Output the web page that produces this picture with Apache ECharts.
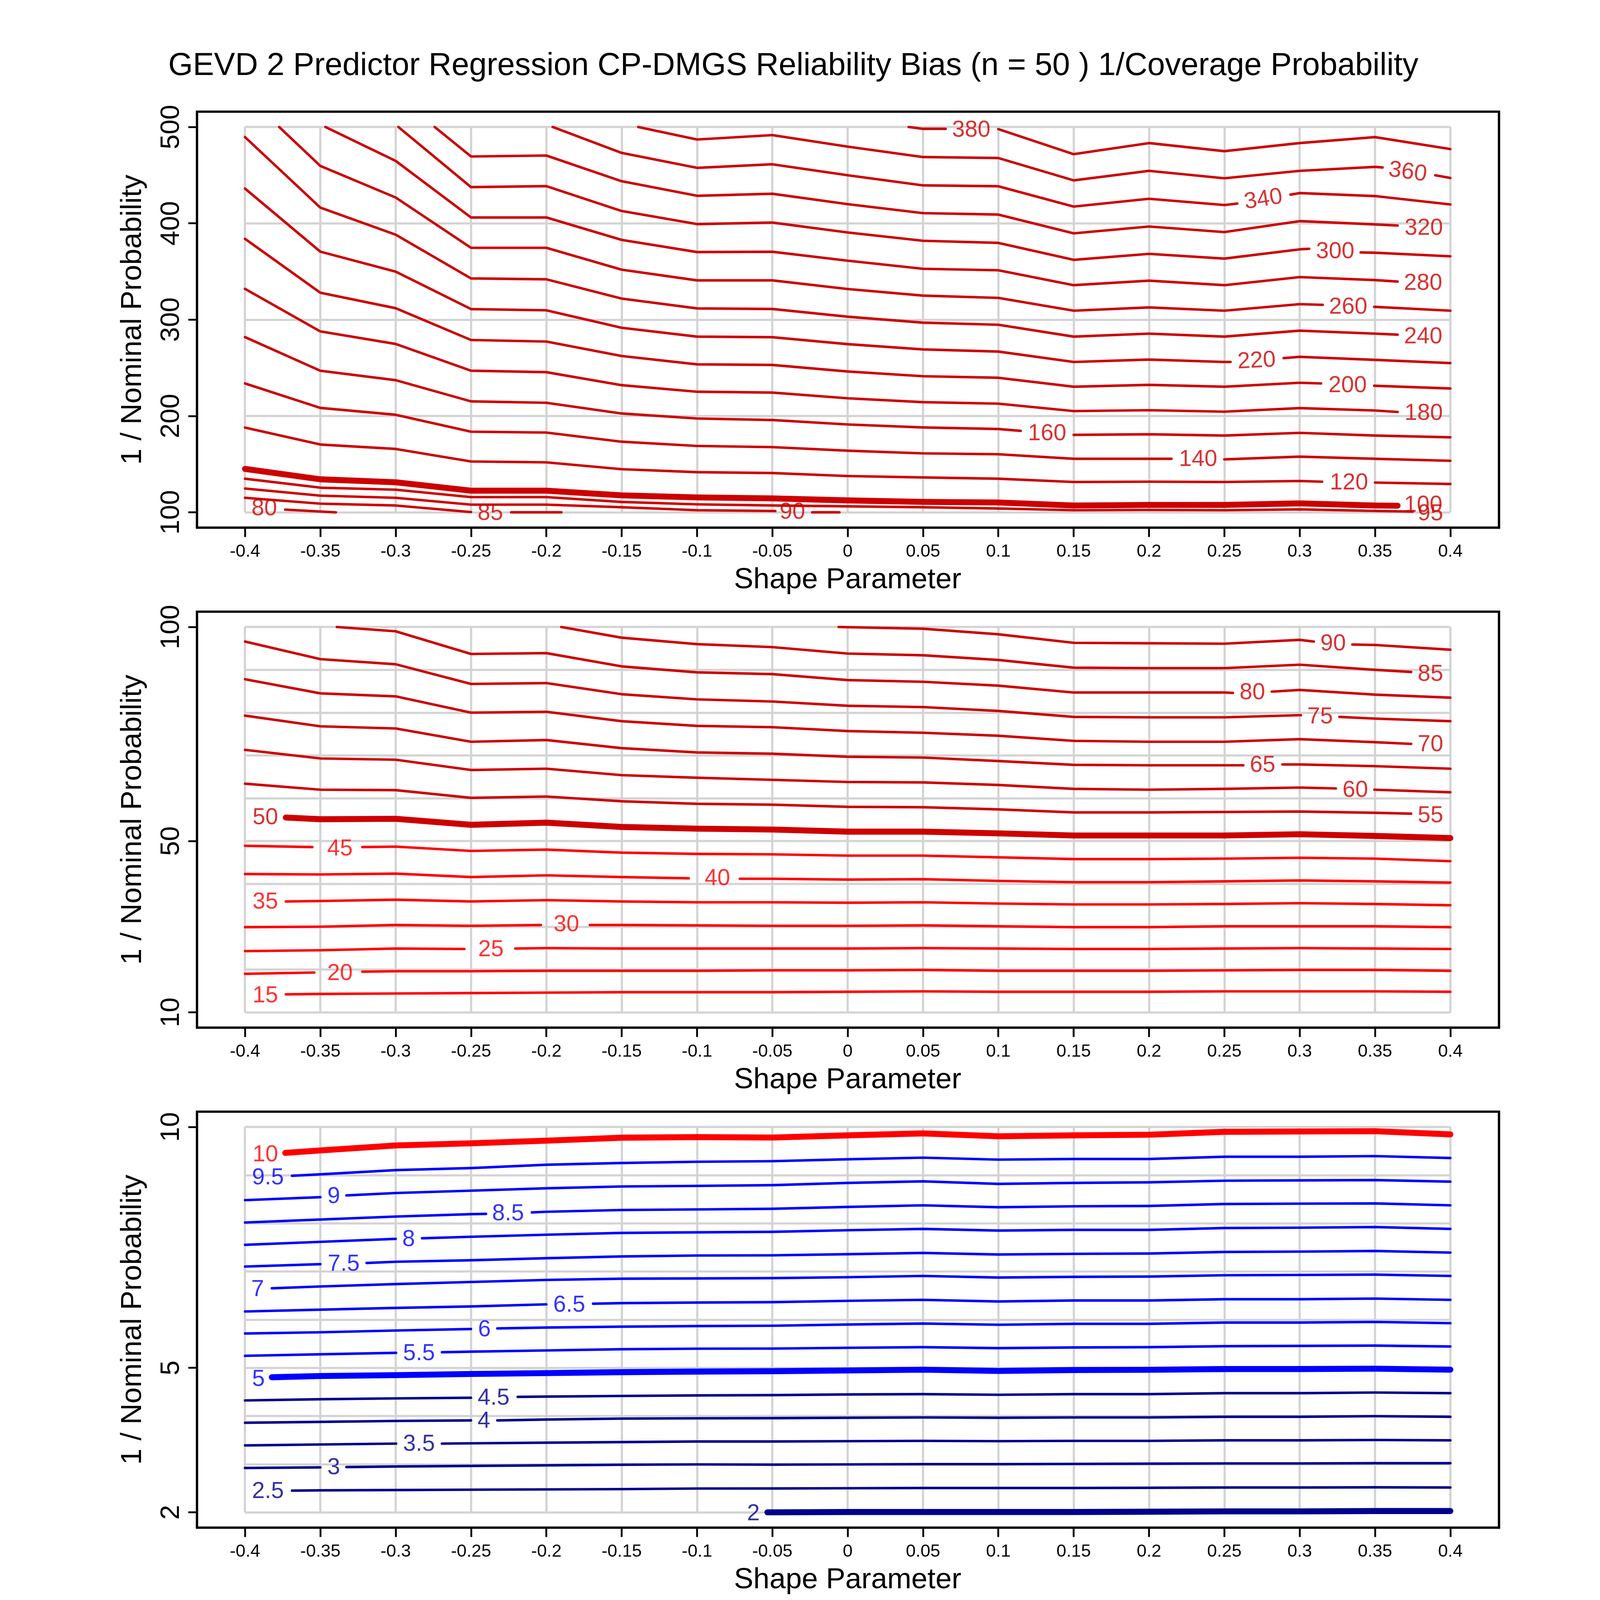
<!DOCTYPE html>
<html><head><meta charset="utf-8">
<script src="https://cdn.jsdelivr.net/npm/echarts@6/dist/echarts.min.js"></script>
<style>html,body{margin:0;padding:0;background:#fff;overflow:hidden}#c{width:100vw;height:100vh}</style>
</head><body><div id="c"></div>
<script>
const FONT = '"Liberation Sans", Arial, Helvetica, sans-serif';
const RED3 = '#CD0000', RED = '#FF0000', BLUE = '#0000FF', NAVY = '#00008B';

const titleText = 'GEVD 2 Predictor Regression CP-DMGS Reliability Bias (n = 50 ) 1/Coverage Probability';
const xName = 'Shape Parameter';
const yName = '1 / Nominal Probability';
const xTicks = [-0.4,-0.35,-0.3,-0.25,-0.2,-0.15,-0.1,-0.05,0,0.05,0.1,0.15,0.2,0.25,0.3,0.35,0.4];
const yTicks1 = [100,200,300,400,500];
const yTicks2 = [10,50,100];
const yTicks3 = [2,5,10];
const yRange1 = [100,500], yRange2 = [10,100], yRange3 = [2,10];
const yGridStep = [100,10,1];

// ---------- Panel 1 contour lines: [shape, 1/nominal]; null = gap for label ----------
const p1_380 = [[0.0405,500],[0.05,498.1],[0.065,498.1],null,[0.1,497.8],[0.15,471.8],[0.2,483.3],[0.25,474.9],[0.3,483.3],[0.35,489.5],[0.4,477.1]];
const p1_360 = [[-0.139,500],[-0.1,487],[-0.05,491.6],[0,479.6],[0.05,468.8],[0.1,467.8],[0.15,444.6],[0.2,454.5],[0.25,446.8],[0.3,454.5],[0.35,458.6],[0.355,458],null,[0.39,449.9],[0.4,447.1]];
const p1_340 = [[-0.1958,500],[-0.15,473.1],[-0.1,457.6],[-0.05,461.3],[0,449.9],[0.05,439.4],[0.1,438.5],[0.15,417.4],[0.2,425.5],[0.25,419],[0.2586,420.5],null,[0.2939,429.8],[0.3,431.4],[0.35,428.3],[0.4,419.6]];
const p1_320 = [[-0.2741,500],[-0.25,469.4],[-0.2,470.4],[-0.15,443.7],[-0.1,428.6],[-0.05,430.7],[0,419.9],[0.05,410.6],[0.1,409.1],[0.15,389.6],[0.2,396.7],[0.25,390.9],[0.3,402.3],[0.35,398.9],[0.365,397.7]];
const p1_300 = [[-0.2982,500],[-0.25,437.6],[-0.2,438.6],[-0.15,412.8],[-0.1,399.2],[-0.05,400.8],[0,390.5],[0.05,381.9],[0.1,379.7],[0.15,362.1],[0.2,368.3],[0.25,363.4],[0.3,373],[0.3063,373.6],null,[0.3405,369.8],[0.35,369.5],[0.4,365.8]];
const p1_280 = [[-0.3466,500],[-0.3,464.8],[-0.25,406.1],[-0.2,406.1],[-0.15,382.8],[-0.1,370.2],[-0.05,370.5],[0,361.2],[0.05,352.8],[0.1,351.3],[0.15,335.8],[0.2,340.5],[0.25,335.8],[0.3,344.2],[0.35,341.1],[0.365,339.6]];
const p1_260 = [[-0.3773,500],[-0.35,459.6],[-0.3,426.8],[-0.25,374.6],[-0.2,374.6],[-0.15,351.9],[-0.1,340.8],[-0.05,340.8],[0,331.8],[0.05,325],[0.1,322.6],[0.15,309.3],[0.2,312.7],[0.25,309.3],[0.3,316.1],[0.3153,315.4],null,[0.3495,313.3],[0.4,309.3]];
const p1_240 = [[-0.4,489.5],[-0.35,416.3],[-0.3,388.2],[-0.25,342.8],[-0.2,341.9],[-0.15,321.9],[-0.1,311.7],[-0.05,311.1],[0,303.1],[0.05,296.9],[0.1,294.7],[0.15,282.4],[0.2,285.5],[0.25,282.4],[0.3,288.6],[0.35,285.5],[0.365,284.4]];
const p1_220 = [[-0.4,436.1],[-0.35,370.6],[-0.3,349.9],[-0.25,311],[-0.2,309.7],[-0.15,291.6],[-0.1,282.4],[-0.05,281.8],[0,274.6],[0.05,269.1],[0.1,266.9],[0.15,256.1],[0.2,258.6],[0.25,256.1],[0.2541,256.1],null,[0.2894,260.1],[0.3,261.4],[0.35,258.3],[0.4,254.9]];
const p1_200 = [[-0.4,383.9],[-0.35,328],[-0.3,311.9],[-0.25,278.9],[-0.2,277.3],[-0.15,262.3],[-0.1,253.6],[-0.05,253],[0,246.2],[0.05,241.3],[0.1,239.7],[0.15,230.4],[0.2,232.3],[0.25,230.4],[0.3,234.5],[0.3142,233.8],null,[0.3495,231.4],[0.4,228.6]];
const p1_180 = [[-0.4,332],[-0.35,287.8],[-0.3,274.8],[-0.25,247],[-0.2,245.5],[-0.15,232],[-0.1,225.2],[-0.05,224.3],[0,218.4],[0.05,214.4],[0.1,212.8],[0.15,205.1],[0.2,206],[0.25,204.5],[0.3,208.2],[0.35,205.7],[0.365,204.2]];
const p1_160 = [[-0.4,281.9],[-0.35,247],[-0.3,237.2],[-0.25,215.2],[-0.2,213.7],[-0.15,202.6],[-0.1,197.4],[-0.05,195.8],[0,191.2],[0.05,188.1],[0.1,186.5],[0.1148,184.6],null,[0.15,180.4],[0.2,181],[0.25,179.7],[0.3,182.5],[0.35,179.7],[0.4,177.9]];
const p1_140 = [[-0.4,233.8],[-0.35,208.4],[-0.3,201.3],[-0.25,183.7],[-0.2,182.8],[-0.15,173.3],[-0.1,168.9],[-0.05,167.7],[0,164],[0.05,161.2],[0.1,160.3],[0.15,155.6],[0.2,155.6],[0.2149,155.6],null,[0.25,155],[0.3,157.8],[0.35,155.6],[0.4,153.5]];
const p1_120 = [[-0.4,188],[-0.35,170.4],[-0.3,165.8],[-0.25,152.8],[-0.2,151.9],[-0.15,144.8],[-0.1,141.7],[-0.05,140.8],[0,137.7],[0.05,136.2],[0.1,134.9],[0.15,131.5],[0.2,131.8],[0.25,131.5],[0.3,132.5],[0.3149,131.8],null,[0.35,130.9],[0.4,129.4]];
const p1_100 = [[-0.4,145.1],[-0.35,134.3],[-0.3,131.2],[-0.25,122.5],[-0.2,122.5],[-0.15,117.6],[-0.1,115.5],[-0.05,114.5],[0,112.4],[0.05,110.8],[0.1,110.2],[0.15,107.1],[0.2,107.7],[0.25,107.7],[0.3,109.3],[0.35,107.1],[0.365,106.9]];
const p1_95 = [[-0.4,134.9],[-0.35,125.6],[-0.3,123.5],[-0.25,115.8],[-0.2,115.8],[-0.15,110.8],[-0.1,108.3],[-0.05,107.1],[0,106.2],[0.05,105.3],[0.1,104],[0.15,102.2],[0.2,102.5],[0.25,102.2],[0.3,103.1],[0.35,101.5],[0.375,100.8]];
const p1_90 = [[-0.4,124.7],[-0.35,117.3],[-0.3,115.1],[-0.25,108],[-0.2,108],[-0.15,105.3],[-0.1,102.2],[-0.048,101.4],null,[-0.0235,100],[-0.0055,100]];
const p1_85 = [[-0.4,115.1],[-0.35,109],[-0.3,107.1],[-0.25,100.3],null,[-0.2233,100],[-0.19,100]];
const p1_80 = [[-0.3733,102.8],[-0.3397,100]];
// labels: [text, x, y, rotation]
const p1Labels = [[380,0.082,496.6,0],[360,0.3717,453,-8],[340,0.2759,424.6,9],[320,0.3824,394.6,0],[300,0.3236,370.5,0],[280,0.3819,337.4,0],[260,0.3322,312.7,0],[240,0.382,281.8,0],[220,0.2714,257,3],[200,0.3318,231.4,0],[180,0.3823,202.6,0],[160,0.1324,181.3,0],[140,0.2326,154.7,0],[120,0.3327,130.3,0],[100,0.382,107.1,0],[95,0.3868,98.5,0],[90,-0.0367,100,0],[85,-0.2372,98.8,0],[80,-0.3872,103.4,0]];

// ---------- Panel 2 ----------
const p2_90 = [[-0.006,100],[0.05,99.6],[0.1,98.3],[0.15,96.3],[0.2,96.2],[0.25,96.1],[0.3,97.0],[0.3094,96.6],null,[0.335,95.9],[0.35,95.8],[0.4,94.7]];
const p2_85 = [[-0.1901,100],[-0.15,97.5],[-0.1,96.0],[-0.05,95.3],[0,93.8],[0.05,93.4],[0.1,92.3],[0.15,90.5],[0.2,90.4],[0.25,90.4],[0.3,91.2],[0.35,90.0],[0.374,89.5]];
const p2_80 = [[-0.339,100],[-0.3,99.0],[-0.25,93.7],[-0.2,93.9],[-0.15,90.8],[-0.1,89.4],[-0.05,89.0],[0,87.6],[0.05,87.2],[0.1,86.3],[0.15,84.7],[0.2,84.7],[0.25,84.7],[0.2557,84.6],null,[0.2815,84.9],[0.3,85.3],[0.35,84.2],[0.4,83.5]];
const p2_75 = [[-0.4,96.6],[-0.35,92.5],[-0.3,91.3],[-0.25,86.7],[-0.2,86.9],[-0.15,84.3],[-0.1,83.1],[-0.05,82.6],[0,81.6],[0.05,81.3],[0.1,80.4],[0.15,79.0],[0.2,78.9],[0.25,78.9],[0.3,79.4],[0.3008,79.4],null,[0.3264,79.0],[0.35,78.6],[0.4,78.0]];
const p2_70 = [[-0.4,87.8],[-0.35,84.5],[-0.3,83.8],[-0.25,80.0],[-0.2,80.2],[-0.15,78.0],[-0.1,76.9],[-0.05,76.6],[0,75.7],[0.05,75.3],[0.1,74.6],[0.15,73.4],[0.2,73.2],[0.25,73.2],[0.3,73.8],[0.35,73.1],[0.374,72.7]];
const p2_65 = [[-0.4,79.3],[-0.35,76.8],[-0.3,76.3],[-0.25,73.2],[-0.2,73.6],[-0.15,71.7],[-0.1,70.7],[-0.05,70.4],[0,69.7],[0.05,69.5],[0.1,68.7],[0.15,67.8],[0.2,67.7],[0.25,67.7],[0.2626,67.7],null,[0.2886,67.9],[0.3,67.9],[0.35,67.5],[0.4,66.9]];
const p2_60 = [[-0.4,71.3],[-0.35,69.3],[-0.3,69.0],[-0.25,66.6],[-0.2,66.9],[-0.15,65.4],[-0.1,64.8],[-0.05,64.3],[0,63.8],[0.05,63.7],[0.1,63.1],[0.15,62.2],[0.2,62.0],[0.25,62.2],[0.3,62.5],[0.324,62.3],null,[0.3496,62.0],[0.4,61.4]];
const p2_55 = [[-0.4,63.4],[-0.35,62.0],[-0.3,61.9],[-0.25,60.1],[-0.2,60.4],[-0.15,59.3],[-0.1,58.7],[-0.05,58.5],[0,58.0],[0.05,57.9],[0.1,57.4],[0.15,56.7],[0.2,56.7],[0.25,56.8],[0.3,56.9],[0.35,56.6],[0.374,56.4]];
const p2_50 = [[-0.3729,55.5],[-0.35,55.1],[-0.3,55.2],[-0.25,53.8],[-0.2,54.3],[-0.15,53.3],[-0.1,52.9],[-0.05,52.7],[0,52.2],[0.05,52.2],[0.1,51.8],[0.15,51.3],[0.2,51.3],[0.25,51.3],[0.3,51.6],[0.35,51.2],[0.4,50.7]];
const p2_45 = [[-0.4,48.9],[-0.3553,48.6],null,[-0.3221,48.6],[-0.3,48.7],[-0.25,47.7],[-0.2,48.0],[-0.15,47.3],[-0.1,47.0],[-0.05,46.9],[0,46.6],[0.05,46.6],[0.1,46.2],[0.15,45.8],[0.2,45.8],[0.25,45.9],[0.3,46.1],[0.35,45.9],[0.4,45.3]];
const p2_40 = [[-0.4,42.3],[-0.35,42.2],[-0.3,42.4],[-0.25,41.6],[-0.2,42.0],[-0.15,41.6],[-0.1055,41.3],null,[-0.0716,41.2],[-0.05,41.2],[0,41.0],[0.05,41.1],[0.1,40.7],[0.15,40.4],[0.2,40.4],[0.25,40.6],[0.3,40.8],[0.35,40.6],[0.4,40.3]];
const p2_35 = [[-0.3729,35.9],[-0.35,36.0],[-0.3,36.3],[-0.25,35.9],[-0.2,36.2],[-0.15,35.9],[-0.1,35.7],[-0.05,35.7],[0,35.6],[0.05,35.7],[0.1,35.4],[0.15,35.2],[0.2,35.2],[0.25,35.3],[0.3,35.5],[0.35,35.3],[0.4,35.0]];
const p2_30 = [[-0.4,29.9],[-0.35,30.0],[-0.3,30.4],[-0.25,30.2],[-0.2036,30.4],null,[-0.1711,30.4],[-0.15,30.4],[-0.1,30.3],[-0.05,30.2],[0,30.2],[0.05,30.3],[0.1,30.1],[0.15,29.9],[0.2,29.9],[0.25,30.1],[0.3,30.1],[0.35,30.1],[0.4,29.9]];
const p2_25 = [[-0.4,24.3],[-0.35,24.5],[-0.3,24.9],[-0.2544,24.8],null,[-0.2206,24.9],[-0.2,25.0],[-0.15,24.9],[-0.1,24.9],[-0.05,24.9],[0,24.9],[0.05,25.0],[0.1,24.9],[0.15,24.8],[0.2,24.8],[0.25,24.9],[0.3,25.0],[0.35,24.9],[0.4,24.8]];
const p2_20 = [[-0.4,19.0],[-0.354,19.3],null,[-0.3221,19.5],[-0.3,19.6],[-0.25,19.6],[-0.2,19.7],[-0.15,19.7],[-0.1,19.7],[-0.05,19.8],[0,19.8],[0.05,19.9],[0.1,19.7],[0.15,19.7],[0.2,19.7],[0.25,19.8],[0.3,19.9],[0.35,19.9],[0.4,19.7]];
const p2_15 = [[-0.3729,14.2],[-0.35,14.3],[-0.3,14.4],[-0.25,14.5],[-0.2,14.6],[-0.15,14.7],[-0.1,14.7],[-0.05,14.7],[0,14.8],[0.05,14.9],[0.1,14.8],[0.15,14.8],[0.2,14.8],[0.25,14.9],[0.3,14.9],[0.35,14.9],[0.4,14.8]];
const p2Labels = [[90,0.3222,96.0,0],[85,0.3868,88.9,0],[80,0.2686,84.6,0],[75,0.3136,79.0,0],[70,0.3868,72.5,0],[65,0.2754,67.6,0],[60,0.3369,61.8,0],[55,0.3868,55.9,0],[50,-0.3865,55.4,0],[45,-0.337,48.1,0],[40,-0.0865,41.2,0],[35,-0.3865,35.7,0],[30,-0.1867,30.4,0],[25,-0.2368,24.6,0],[20,-0.337,19.0,0],[15,-0.3865,13.8,0]];

// ---------- Panel 3 ----------
const p3_10 = [[-0.3733,9.463],[-0.35,9.513],[-0.3,9.617],[-0.25,9.661],[-0.2,9.716],[-0.15,9.778],[-0.1,9.790],[-0.05,9.781],[0,9.827],[0.05,9.867],[0.1,9.807],[0.15,9.827],[0.2,9.840],[0.25,9.900],[0.3,9.907],[0.35,9.913],[0.4,9.847]];
const p3_95 = [[-0.3688,8.987],[-0.35,9.018],[-0.3,9.105],[-0.25,9.148],[-0.2,9.216],[-0.15,9.253],[-0.1,9.278],[-0.05,9.290],[0,9.330],[0.05,9.363],[0.1,9.323],[0.15,9.336],[0.2,9.336],[0.25,9.383],[0.3,9.383],[0.35,9.396],[0.4,9.356]];
const p3_9 = [[-0.4,8.481],[-0.35,8.543],null,[-0.3327,8.580],[-0.3,8.629],[-0.25,8.678],[-0.2,8.728],[-0.15,8.765],[-0.1,8.777],[-0.05,8.792],[0,8.839],[0.05,8.872],[0.1,8.819],[0.15,8.839],[0.2,8.852],[0.25,8.885],[0.3,8.892],[0.35,8.898],[0.4,8.865]];
const p3_85 = [[-0.4,8.017],[-0.35,8.079],[-0.3,8.141],[-0.25,8.190],[-0.24,8.196],null,[-0.2096,8.227],[-0.2,8.240],[-0.15,8.277],[-0.1,8.289],[-0.05,8.302],[0,8.341],[0.05,8.374],[0.1,8.334],[0.15,8.354],[0.2,8.361],[0.25,8.401],[0.3,8.408],[0.35,8.414],[0.4,8.374]];
const p3_8 = [[-0.4,7.554],[-0.35,7.616],[-0.3,7.677],null,[-0.2825,7.690],[-0.25,7.721],[-0.2,7.764],[-0.15,7.801],[-0.1,7.813],[-0.05,7.824],[0,7.857],[0.05,7.884],[0.1,7.850],[0.15,7.864],[0.2,7.864],[0.25,7.903],[0.3,7.910],[0.35,7.923],[0.4,7.884]];
const p3_75 = [[-0.4,7.103],[-0.35,7.152],null,[-0.3193,7.177],[-0.3,7.202],[-0.25,7.233],[-0.2,7.276],[-0.15,7.313],[-0.1,7.332],[-0.05,7.336],[0,7.359],[0.05,7.386],[0.1,7.353],[0.15,7.366],[0.2,7.373],[0.25,7.406],[0.3,7.413],[0.35,7.426],[0.4,7.393]];
const p3_7 = [[-0.3822,6.652],[-0.35,6.689],[-0.3,6.739],[-0.25,6.782],[-0.2,6.825],[-0.15,6.850],[-0.1,6.856],[-0.05,6.862],[0,6.882],[0.05,6.908],[0.1,6.875],[0.15,6.889],[0.2,6.895],[0.25,6.922],[0.3,6.928],[0.35,6.935],[0.4,6.908]];
const p3_65 = [[-0.4,6.170],[-0.35,6.207],[-0.3,6.244],[-0.25,6.275],[-0.2,6.318],null,[-0.169,6.331],[-0.15,6.343],[-0.1,6.356],[-0.05,6.364],[0,6.391],[0.05,6.411],[0.1,6.378],[0.15,6.398],[0.2,6.398],[0.25,6.424],[0.3,6.424],[0.35,6.438],[0.4,6.411]];
const p3_6 = [[-0.4,5.713],[-0.35,5.738],[-0.3,5.775],[-0.25,5.806],null,[-0.2325,5.818],[-0.2,5.837],[-0.15,5.855],[-0.1,5.867],[-0.05,5.874],[0,5.900],[0.05,5.920],[0.1,5.894],[0.15,5.914],[0.2,5.914],[0.25,5.940],[0.3,5.940],[0.35,5.953],[0.4,5.927]];
const p3_55 = [[-0.4,5.250],[-0.35,5.281],[-0.2997,5.311],null,[-0.2693,5.324],[-0.25,5.336],[-0.2,5.361],[-0.15,5.386],[-0.1,5.398],[-0.05,5.400],[0,5.416],[0.05,5.429],[0.1,5.409],[0.15,5.423],[0.2,5.429],[0.25,5.449],[0.3,5.456],[0.35,5.462],[0.4,5.443]];
const p3_5 = [[-0.3822,4.805],[-0.35,4.830],[-0.3,4.848],[-0.25,4.873],[-0.2,4.891],[-0.15,4.910],[-0.1,4.922],[-0.05,4.930],[0,4.945],[0.05,4.962],[0.1,4.935],[0.15,4.955],[0.2,4.960],[0.25,4.975],[0.3,4.975],[0.35,4.982],[0.4,4.962]];
const p3_45 = [[-0.4,4.323],[-0.35,4.348],[-0.3,4.366],[-0.25,4.379],null,[-0.219,4.397],[-0.2,4.403],[-0.15,4.416],[-0.1,4.428],[-0.05,4.433],[0,4.448],[0.05,4.454],[0.1,4.441],[0.15,4.454],[0.2,4.454],[0.25,4.474],[0.3,4.474],[0.35,4.487],[0.4,4.474]];
const p3_4 = [[-0.4,3.860],[-0.35,3.878],[-0.3,3.897],[-0.25,3.909],null,[-0.2325,3.909],[-0.2,3.927],[-0.15,3.946],[-0.1,3.952],[-0.05,3.955],[0,3.963],[0.05,3.970],[0.1,3.963],[0.15,3.970],[0.2,3.970],[0.25,3.983],[0.3,3.983],[0.35,3.997],[0.4,3.983]];
const p3_35 = [[-0.4,3.390],[-0.35,3.409],[-0.2997,3.427],null,[-0.2693,3.427],[-0.25,3.433],[-0.2,3.446],[-0.15,3.458],[-0.1,3.470],[-0.05,3.470],[0,3.478],[0.05,3.484],[0.1,3.478],[0.15,3.484],[0.2,3.484],[0.25,3.495],[0.3,3.495],[0.35,3.502],[0.4,3.495]];
const p3_3 = [[-0.4,2.921],[-0.35,2.933],null,[-0.3327,2.939],[-0.3,2.951],[-0.25,2.964],[-0.2,2.976],[-0.15,2.988],[-0.1,2.995],[-0.05,2.990],[0,2.995],[0.05,3.0],[0.1,3.0],[0.15,3.005],[0.2,3.010],[0.25,3.015],[0.3,3.015],[0.35,3.020],[0.4,3.020]];
const p3_25 = [[-0.3688,2.451],[-0.35,2.457],[-0.3,2.463],[-0.25,2.470],[-0.2,2.476],[-0.15,2.482],[-0.1,2.494],[-0.05,2.495],[0,2.500],[0.05,2.505],[0.1,2.505],[0.15,2.505],[0.2,2.510],[0.25,2.515],[0.3,2.515],[0.35,2.520],[0.4,2.515]];
const p3_2 = [[-0.0533,2.0],[0,2.007],[0.05,2.007],[0.1,2.007],[0.15,2.007],[0.2,2.013],[0.25,2.020],[0.3,2.020],[0.35,2.027],[0.4,2.027]];
const p3Labels = [['10',-0.3865,9.42,0],['9.5',-0.3848,8.944,0],['9',-0.3411,8.555,0],['8.5',-0.2254,8.196,0],['8',-0.2914,7.659,0],['7.5',-0.3345,7.146,0],['7',-0.3916,6.621,0],['6.5',-0.1848,6.300,0],['6',-0.2411,5.787,0],['5.5',-0.2845,5.293,0],['5',-0.3911,4.755,0],['4.5',-0.235,4.366,0],['4',-0.2414,3.891,0],['3.5',-0.2845,3.409,0],['3',-0.3411,2.921,0],['2.5',-0.3848,2.426,0],['2',-0.0626,1.97,0]];

// line sets: [level, points]
const p1Lines = [[380,p1_380],[360,p1_360],[340,p1_340],[320,p1_320],[300,p1_300],[280,p1_280],[260,p1_260],[240,p1_240],[220,p1_220],[200,p1_200],[180,p1_180],[160,p1_160],[140,p1_140],[120,p1_120],[100,p1_100],[95,p1_95],[90,p1_90],[85,p1_85],[80,p1_80]];
const p2Lines = [[90,p2_90],[85,p2_85],[80,p2_80],[75,p2_75],[70,p2_70],[65,p2_65],[60,p2_60],[55,p2_55],[50,p2_50],[45,p2_45],[40,p2_40],[35,p2_35],[30,p2_30],[25,p2_25],[20,p2_20],[15,p2_15]];
const p3Lines = [[10,p3_10],[9.5,p3_95],[9,p3_9],[8.5,p3_85],[8,p3_8],[7.5,p3_75],[7,p3_7],[6.5,p3_65],[6,p3_6],[5.5,p3_55],[5,p3_5],[4.5,p3_45],[4,p3_4],[3.5,p3_35],[3,p3_3],[2.5,p3_25],[2,p3_2]];

function colorFor(p, lv) {
  if (p === 0) return RED3;
  if (p === 1) return lv >= 50 ? RED3 : RED;
  if (lv >= 10) return RED;
  return lv >= 5 ? BLUE : NAVY;
}
const thickLevels = [[100],[50],[10,5,2]];

// layout (designed on a 4800 px page, scaled to the actual viewport)
const S = Math.min(window.innerWidth, window.innerHeight) / 4800;
const px = v => v * S;
const G_LEFT = 735, G_W = 3616, G_H = 1156, G_TOPS = [381, 1881, 3381];
const PAD = 46, BOX_L = 591, BOX_W = 3906;
const LW = 7.5, LW_THICK = 18;

const series = [];
function addPanel(p, lines, labels) {
  lines.forEach(([lv, pts]) => {
    const color = colorFor(p, lv);
    const w = thickLevels[p].includes(lv) ? LW_THICK : LW;
    let seg = [];
    const flush = () => {
      if (seg.length > 1) series.push({
        type: 'line', xAxisIndex: p, yAxisIndex: 2 * p, data: seg,
        symbol: 'none', showSymbol: false, clip: false, silent: true, animation: false, z: 3,
        emphasis: {disabled: true},
        lineStyle: {color, width: px(w), cap: 'round', join: 'round'}
      });
      seg = [];
    };
    pts.forEach(pt => { if (pt === null) flush(); else seg.push(pt); });
    flush();
  });
  series.push({
    type: 'scatter', xAxisIndex: p, yAxisIndex: 2 * p, symbolSize: 1, clip: false,
    silent: true, animation: false, z: 5, itemStyle: {color: 'rgba(0,0,0,0)'},
    emphasis: {disabled: true},
    label: {show: true, position: 'inside', fontSize: px(69), fontFamily: FONT, align: 'center', verticalAlign: 'middle'},
    data: labels.map(l => ({
      value: [l[1], l[2]],
      label: {formatter: String(l[0]), rotate: l[3] || 0, color: colorFor(p, parseFloat(l[0]))}
    }))
  });
}
addPanel(0, p1Lines, p1Labels);
addPanel(1, p2Lines, p2Labels);
addPanel(2, p3Lines, p3Labels);

const yTicksAll = [yTicks1, yTicks2, yTicks3];
const yRanges = [yRange1, yRange2, yRange3];

const grids = G_TOPS.map(t => ({left: px(G_LEFT), top: px(t), width: px(G_W), height: px(G_H), containLabel: false, outerBoundsMode: 'none'}));
const xAxes = G_TOPS.map((t, p) => ({
  gridIndex: p, type: 'value', min: -0.4, max: 0.4, interval: 0.05, offset: px(PAD),
  axisLine: {show: false},
  axisTick: {show: true, length: px(28), customValues: xTicks, lineStyle: {color: '#000', width: px(5.5)}},
  axisLabel: {show: true, customValues: xTicks, fontSize: px(53), margin: px(46), color: '#000', fontFamily: FONT},
  splitLine: {show: true, lineStyle: {color: '#D3D3D3', width: px(6.5)}},
  name: xName, nameLocation: 'middle', nameGap: px(115),
  nameTextStyle: {fontSize: px(87), color: '#000', fontFamily: FONT}
}));
const yAxes = [];
G_TOPS.forEach((t, p) => {
  yAxes.push({
    gridIndex: p, type: 'value', min: yRanges[p][0], max: yRanges[p][1], interval: yGridStep[p],
    axisLine: {show: false}, axisTick: {show: false}, axisLabel: {show: false},
    splitLine: {show: true, lineStyle: {color: '#D3D3D3', width: px(6.5)}}
  });
  yAxes.push({
    gridIndex: p, type: 'value', min: yRanges[p][0], max: yRanges[p][1], position: 'left', offset: px(G_LEFT - BOX_L),
    axisLine: {show: false},
    axisTick: {show: true, length: px(26), customValues: yTicksAll[p], lineStyle: {color: '#000', width: px(5.5)}},
    axisLabel: {show: true, customValues: yTicksAll[p], rotate: 90, fontSize: px(80), margin: px(36), color: '#000', fontFamily: FONT},
    splitLine: {show: false},
    name: yName, nameLocation: 'middle', nameGap: px(149),
    nameTextStyle: {fontSize: px(87), color: '#000', fontFamily: FONT}
  });
});

const graphics = [{
  type: 'text', x: px(2380), y: px(199), z: 10,
  style: {text: titleText, fontSize: px(95), fontFamily: FONT, fill: '#000', align: 'center', verticalAlign: 'middle'}
}];
G_TOPS.forEach(t => graphics.push({
  type: 'rect', z: 10, silent: true,
  shape: {x: px(BOX_L), y: px(t - PAD), width: px(BOX_W), height: px(G_H + 2 * PAD)},
  style: {fill: 'none', stroke: '#000', lineWidth: px(7)}
}));

const chart = echarts.init(document.getElementById('c'), null, {renderer: 'canvas'});
chart.setOption({
  backgroundColor: '#fff', animation: false,
  grid: grids, xAxis: xAxes, yAxis: yAxes, series, graphic: graphics
});
</script></body></html>
